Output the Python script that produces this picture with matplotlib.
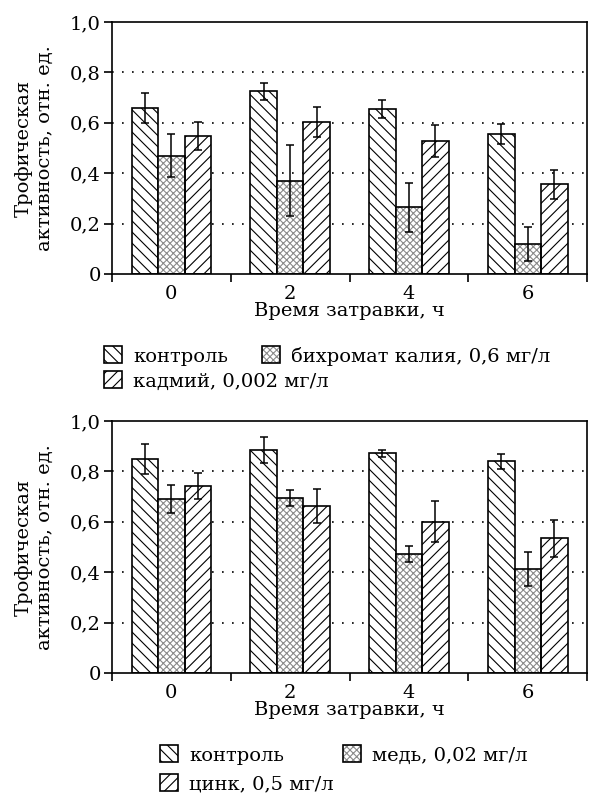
import numpy as np
import matplotlib
matplotlib.use("Agg")
import matplotlib.pyplot as plt

plt.rcParams['font.family'] = ['DejaVu Serif']
plt.rcParams['hatch.linewidth'] = 0.8

# время затравки, ч
hours = ['0', '2', '4', '6']

# верхний график
top_labels = ['контроль', 'бихромат калия, 0,6 мг/л', 'кадмий, 0,002 мг/л']
top_control = [0.66, 0.725, 0.655, 0.555]
top_control_err = [0.06, 0.033, 0.037, 0.04]
top_bichromate = [0.47, 0.37, 0.265, 0.12]
top_bichromate_err = [0.085, 0.14, 0.097, 0.068]
top_cadmium = [0.547, 0.604, 0.527, 0.356]
top_cadmium_err = [0.057, 0.06, 0.063, 0.058]

# нижний график
bot_labels = ['контроль', 'медь, 0,02 мг/л', 'цинк, 0,5 мг/л']
bot_control = [0.85, 0.886, 0.872, 0.84]
bot_control_err = [0.06, 0.052, 0.013, 0.03]
bot_copper = [0.69, 0.694, 0.472, 0.413]
bot_copper_err = [0.055, 0.031, 0.032, 0.069]
bot_zinc = [0.742, 0.664, 0.601, 0.534]
bot_zinc_err = [0.05, 0.068, 0.08, 0.075]

FS = 14
W = 0.223
FIG_W, FIG_H = 589, 796


def draw_panel(ax, control, control_err, metal, metal_err, third, third_err):
    x = np.arange(len(hours))
    for v in [0.2, 0.4, 0.6, 0.8]:
        ax.axhline(v, color='black', lw=1.2, ls=(0, (1, 5)), zorder=0)
    ekw = dict(ecolor='black', elinewidth=1.1, capsize=3, capthick=1.1)
    h1 = ax.bar(x - W, control, W, color='white', edgecolor='black',
                hatch='\\\\\\', lw=1.2, zorder=2,
                yerr=control_err, error_kw=ekw)
    # сетчатая штриховка серым цветом, поверх - чёрный контур
    h2a = ax.bar(x, metal, W, color='white', edgecolor='#8a8a8a',
                 hatch='xxxxx', lw=0, zorder=2)
    h2b = ax.bar(x, metal, W, fill=False, edgecolor='black', lw=1.2, zorder=3,
                 yerr=metal_err, error_kw=ekw)
    h3 = ax.bar(x + W, third, W, color='white', edgecolor='black',
                hatch='///', lw=1.2, zorder=2,
                yerr=third_err, error_kw=ekw)
    ax.set_xlim(-0.5, len(hours) - 0.5)
    ax.set_ylim(0, 1.0)
    ax.set_xticks(x)
    ax.set_xticklabels(hours, fontsize=FS)
    ax.set_xticks(np.arange(len(hours) + 1) - 0.5, minor=True)
    ax.tick_params(axis='x', which='major', length=0, pad=8)
    ax.tick_params(axis='x', which='minor', length=6, width=1.2)
    ax.set_yticks([0, 0.2, 0.4, 0.6, 0.8, 1.0])
    ax.set_yticklabels(['0', '0,2', '0,4', '0,6', '0,8', '1,0'], fontsize=FS)
    ax.tick_params(axis='y', length=6, width=1.2, pad=2)
    for s in ax.spines.values():
        s.set_linewidth(1.2)
    ax.set_xlabel('Время затравки, ч', fontsize=FS, labelpad=-1)
    ax.text(-0.163, 0.5, 'Трофическая\nактивность, отн. ед.', fontsize=FS,
            rotation=90, ha='center', va='center', linespacing=1.25,
            transform=ax.transAxes)
    return h1, (h2a, h2b), h3


def legend_item(handle, label, px, py):
    fig.legend([handle], [label], loc='center left',
               bbox_to_anchor=(px / FIG_W, 1 - py / FIG_H),
               frameon=False, fontsize=FS, handlelength=0.95,
               handleheight=0.95, handletextpad=0.55,
               borderaxespad=0, borderpad=0)


fig = plt.figure(figsize=(5.89, 7.96), dpi=100)
ax1 = fig.add_axes([0.190, 0.6558, 0.807, 0.3166])
ax2 = fig.add_axes([0.190, 0.1545, 0.807, 0.3166])

hh = draw_panel(ax1, top_control, top_control_err, top_bichromate,
                top_bichromate_err, top_cadmium, top_cadmium_err)
legend_item(hh[0], top_labels[0], 104, 356)
legend_item(hh[1], top_labels[1], 262, 356)
legend_item(hh[2], top_labels[2], 104, 381)

hh = draw_panel(ax2, bot_control, bot_control_err, bot_copper,
                bot_copper_err, bot_zinc, bot_zinc_err)
legend_item(hh[0], bot_labels[0], 160, 755)
legend_item(hh[1], bot_labels[1], 343, 755)
legend_item(hh[2], bot_labels[2], 160, 784)

fig.savefig('out.png', dpi=100)
